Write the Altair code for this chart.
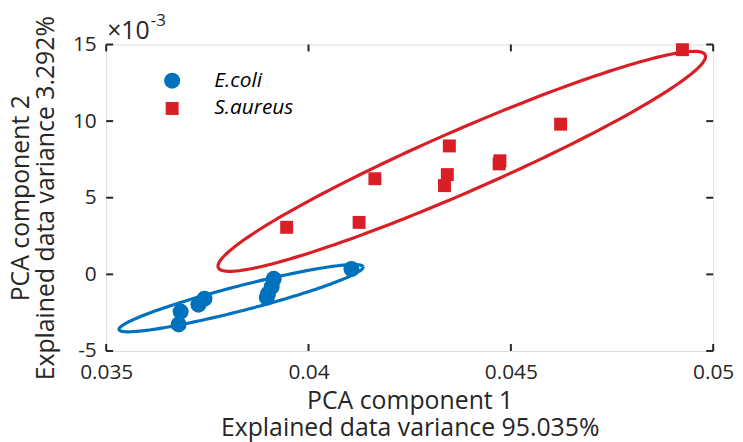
import altair as alt
import pandas as pd

# ---- data (PC2 values are in units of 1e-3) ----
ecoli_pc1 = [0.04106, 0.03914, 0.03909, 0.03900, 0.03897, 0.03743, 0.03728, 0.03684, 0.03679]
ecoli_pc2 = [0.35, -0.29, -0.81, -1.26, -1.52, -1.59, -1.98, -2.43, -3.27]
saureus_pc1 = [0.04924, 0.04623, 0.04473, 0.04471, 0.04348, 0.04343, 0.04336, 0.04164, 0.04125, 0.03946]
saureus_pc2 = [14.66, 9.80, 7.41, 7.21, 8.38, 6.51, 5.79, 6.24, 3.39, 3.07]

groups = ["E.coli", "S.aureus"]
colors = ["#0072BD", "#D81F26"]
shapes = ["circle", "square"]
marker_sizes = [260, 170]

# confidence-ellipse parameters: centre, half major axis vector, half minor axis vector
ell_cx = [0.038333, 0.043787]
ell_cy = [-1.555, 7.376]
ell_major_dx = [0.003015, 0.006017]
ell_major_dy = [2.05, 6.94]
ell_minor_dx = [0.000076, 0.000304]
ell_minor_dy = [-0.783, -1.839]

x_ticks = [0.035, 0.04, 0.045, 0.05]
y_ticks = [-5, 0, 5, 10, 15]

W, H = 612, 309
INK = "#262626"
FONT = "Open Sans"

pts = pd.DataFrame({
    "pc1": ecoli_pc1 + saureus_pc1,
    "pc2": ecoli_pc2 + saureus_pc2,
    "group": ["E.coli"] * len(ecoli_pc1) + ["S.aureus"] * len(saureus_pc1),
})

xscale = alt.Scale(domain=[0.035, 0.05], nice=False, zero=False)
yscale = alt.Scale(domain=[-5, 15], nice=False, zero=False)

xaxis = alt.Axis(
    values=x_ticks, format="~g", ticks=False, domain=False, grid=False,
    labelFontSize=21, labelColor=INK, labelPadding=11, labelFlush=False,
    labelOverlap=False, labelFont=FONT,
    title=["PCA component 1", "Explained data variance 95.035%"],
    titleFontSize=25, titleFontWeight="normal", titleColor=INK, titleFont=FONT,
    titleBaseline="alphabetic", titleY=58, titleLineHeight=27,
)
yaxis = alt.Axis(
    values=y_ticks, ticks=False, domain=False, grid=False,
    labelExpr="replace(datum.label, '\u2212', '-')",
    labelFontSize=21, labelColor=INK, labelPadding=10, labelFlush=False,
    labelOverlap=False, labelFont=FONT,
    title=["PCA component 2", "Explained data variance 3.292%"],
    titleFontSize=25, titleFontWeight="normal", titleColor=INK, titleFont=FONT,
    titleBaseline="alphabetic", titleX=-78, titleY=H / 2, titleLineHeight=25,
)

layers = []

# ellipses
for i, g in enumerate(groups):
    ell = alt.Chart(alt.sequence(0, 362, 2, as_="deg")).transform_calculate(
        ex=f"{ell_cx[i]} + {ell_major_dx[i]}*cos(datum.deg*PI/180) + {ell_minor_dx[i]}*sin(datum.deg*PI/180)",
        ey=f"{ell_cy[i]} + {ell_major_dy[i]}*cos(datum.deg*PI/180) + {ell_minor_dy[i]}*sin(datum.deg*PI/180)",
    ).mark_line(strokeWidth=3.2, color=colors[i]).encode(
        x=alt.X("ex:Q", scale=xscale, axis=xaxis),
        y=alt.Y("ey:Q", scale=yscale, axis=yaxis),
        order="deg:Q",
    )
    layers.append(ell)

# points
legend = alt.Legend(
    title=None, orient="none", legendX=56, legendY=26,
    labelFontSize=21, labelFontStyle="italic", labelColor="#000000",
    labelFont=FONT, symbolStrokeWidth=0, symbolOpacity=1,
    labelOffset=32, rowPadding=6, padding=0,
)
points = alt.Chart(pts).mark_point(filled=True, opacity=1, strokeWidth=0).encode(
    x=alt.X("pc1:Q", scale=xscale, axis=xaxis),
    y=alt.Y("pc2:Q", scale=yscale, axis=yaxis),
    color=alt.Color("group:N", scale=alt.Scale(domain=groups, range=colors), legend=legend),
    shape=alt.Shape("group:N", scale=alt.Scale(domain=groups, range=shapes), legend=legend),
    size=alt.Size("group:N", scale=alt.Scale(domain=groups, range=marker_sizes), legend=legend),
)
layers.append(points)

# inward tick marks on all four sides
xt = pd.DataFrame({"v": x_ticks})
yt = pd.DataFrame({"v": y_ticks})
TL = 7
for y0, y1 in [(H, H - TL), (0, TL)]:
    layers.append(alt.Chart(xt).mark_rule(color=INK, strokeWidth=2).encode(
        x=alt.X("v:Q", scale=xscale, axis=xaxis), y=alt.value(y0), y2=alt.value(y1)))
for x0, x1 in [(0, TL), (W, W - TL)]:
    layers.append(alt.Chart(yt).mark_rule(color=INK, strokeWidth=2).encode(
        y=alt.Y("v:Q", scale=yscale, axis=yaxis), x=alt.value(x0), x2=alt.value(x1)))

# exponent annotation
layers.append(alt.Chart(pd.DataFrame({"t": ["\u00d710"]})).mark_text(
    align="left", baseline="alphabetic", fontSize=25, font=FONT, color=INK
).encode(text="t:N", x=alt.value(1), y=alt.value(-6)))
layers.append(alt.Chart(pd.DataFrame({"t": ["-3"]})).mark_text(
    align="left", baseline="alphabetic", fontSize=17, font=FONT, color=INK
).encode(text="t:N", x=alt.value(45), y=alt.value(-19)))

chart = alt.layer(*layers).properties(
    width=W, height=H,
    autosize=alt.AutoSizeParams(type="none"),
    padding={"left": 99, "top": 35, "right": 22, "bottom": 90},
).configure_view(stroke=INK, strokeWidth=2.6).configure(background="white")

chart.save("out.html", embed_options={"renderer": "svg", "actions": False})
